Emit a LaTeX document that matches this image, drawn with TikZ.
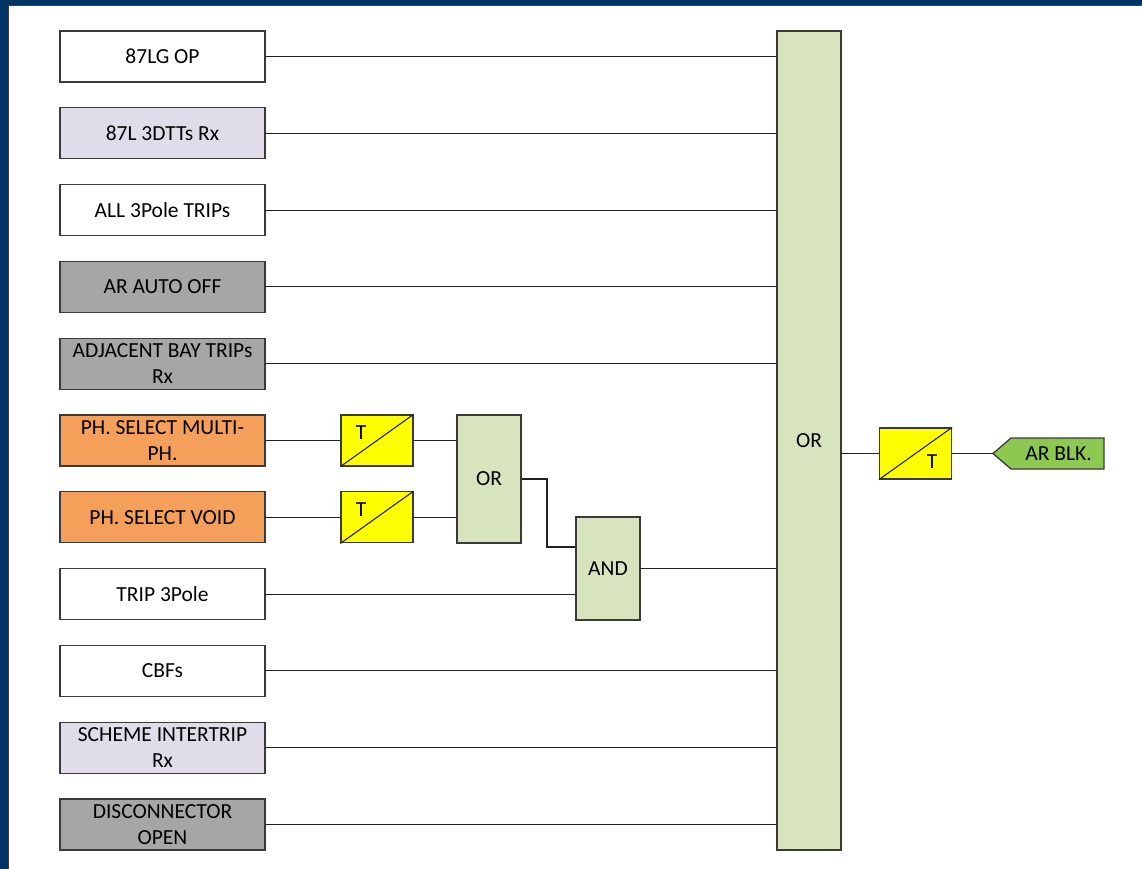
\documentclass[tikz,border=0pt]{standalone}
\usepackage{fontspec}
\setmainfont{Carlito}
\definecolor{navy}{HTML}{003366}
\definecolor{boxline}{HTML}{3A3A3A}
\definecolor{wireclr}{HTML}{222222}
\definecolor{lav}{HTML}{E0DCEA}
\definecolor{grayfill}{HTML}{A6A6A6}
\definecolor{orangefill}{HTML}{F5A05A}
\definecolor{palegreen}{HTML}{D7E4BD}
\definecolor{yel}{HTML}{FFFF00}
\definecolor{argreen}{HTML}{8DC950}
\begin{document}
\begin{tikzpicture}[x=1pt,y=-1pt,
  every node/.style={font=\fontsize{21.5}{25.5}\selectfont, text=black},
  inbox/.style={draw=boxline, line width=1.3pt, rectangle, minimum width=205pt, minimum height=51pt, align=center, inner sep=0pt},
  gate/.style={draw=boxline, line width=1.3pt, rectangle, fill=palegreen, inner sep=0pt},
  timer/.style={draw=boxline, line width=1.3pt, rectangle, fill=yel, minimum width=72pt, minimum height=51pt, inner sep=0pt},
  wire/.style={draw=wireclr, line width=1.1pt},
  lbl/.style={inner sep=0pt}
]
\useasboundingbox (0,0) rectangle (1142,869);
\fill[white] (0,0) rectangle (1142,869);
% frame
\fill[navy] (0,0) rectangle (1142,6);
\fill[navy] (0,0) rectangle (8,869);
\draw[line width=1pt, black!75] (8,869) -- (8,6) -- (1142,6);

% input boxes
\node[inbox, fill=white] (b1) at (162.5,56.5) {87LG OP};
\node[inbox, fill=lav] (b2) at (162.5,133.3) {87L 3DTTs Rx};
\node[inbox, fill=white] (b3) at (162.5,210.1) {ALL 3Pole TRIPs};
\node[inbox, fill=grayfill] (b4) at (162.5,286.9) {AR AUTO OFF};
\node[inbox, fill=grayfill] (b5) at (162.5,363.7) {ADJACENT BAY TRIPs\\Rx};
\node[inbox, fill=orangefill] (b6) at (162.5,440.5) {PH. SELECT MULTI-\\PH.};
\node[inbox, fill=orangefill] (b7) at (162.5,517.3) {PH. SELECT VOID};
\node[inbox, fill=white] (b8) at (162.5,594.1) {TRIP 3Pole};
\node[inbox, fill=white] (b9) at (162.5,670.9) {CBFs};
\node[inbox, fill=lav] (b10) at (162.5,747.7) {SCHEME INTERTRIP\\Rx};
\node[inbox, fill=grayfill] (b11) at (162.5,824.5) {DISCONNECTOR\\OPEN};

% big OR
\node[gate, minimum width=64pt, minimum height=819pt] (bigor) at (809,440.5) {OR};

% timers
\node[timer] (t1) at (377,440.5) {};
\draw[wire] (t1.south west) -- (t1.north east);
\node[lbl] (t1l) at (361,433) {T};
\node[timer] (t2) at (377,517.3) {};
\draw[wire] (t2.south west) -- (t2.north east);
\node[lbl] (t2l) at (361,510) {T};

% small OR and AND
\node[gate, minimum width=64pt, minimum height=128pt] (smor) at (489,479) {OR};
\node[gate, minimum width=64pt, minimum height=103pt] (andg) at (608,568.5) {AND};

% output timer
\node[timer] (t3) at (915.5,453.5) {};
\draw[wire] (t3.south west) -- (t3.north east);
\node[lbl] (t3l) at (932,462) {T};

% AR BLK output
\coordinate (artip) at (993,453.5);
\draw[draw=boxline, line width=1.3pt, fill=argreen] (artip) -- (1011,438) -- (1104,438) -- (1104,469) -- (1011,469) -- cycle;
\node[lbl] (arblk) at (1058.5,453.5) {AR BLK.};

% wires to big OR
\foreach \b in {b1,b2,b3,b4,b5,b9,b10,b11} {
  \draw[wire] (\b.east) -- (\b.east -| bigor.west);
}
\draw[wire] (b6.east) -- (t1.west);
\draw[wire] (b7.east) -- (t2.west);
\draw[wire] (t1.east) -- (t1.east -| smor.west);
\draw[wire] (t2.east) -- (t2.east -| smor.west);
\coordinate (andin1) at (andg.west |- 0,547);
\draw[wire] (smor.east) -- (547,479) -- (547,547) -- (andin1);
\draw[wire] (b8.east) -- (b8.east -| andg.west);
\draw[wire] (andg.east) -- (andg.east -| bigor.west);
\draw[wire] (bigor.east |- t3.west) -- (t3.west);
\draw[wire] (t3.east) -- (artip);
\end{tikzpicture}
\end{document}
